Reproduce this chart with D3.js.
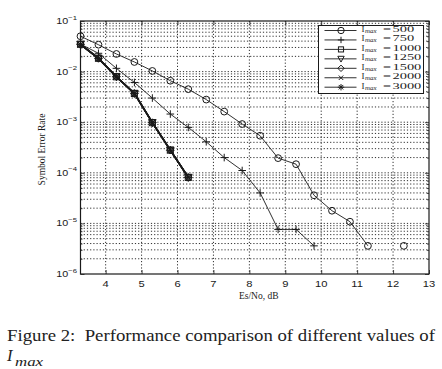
<!DOCTYPE html>
<html>
<head>
<meta charset="utf-8">
<script src="https://cdn.jsdelivr.net/npm/d3@7"></script>
<style>
  html, body { margin: 0; padding: 0; background: #fff; }
  #chart { width: 442px; height: 369px; }
</style>
</head>
<body>
<div id="chart"></div>
<script>
// Es/No points (dB)
const snr = [3.3, 3.8, 4.3, 4.8, 5.3, 5.8, 6.3, 6.8, 7.3, 7.8, 8.3, 8.8, 9.3, 9.8, 10.3, 10.8, 11.3, 11.8, 12.3];

// symbol error rate per Imax (null = no errors counted)
const ser500  = [0.050, 0.034, 0.0223, 0.0155, 0.0103, 0.0066, 0.0045, 0.0028, 0.00162, 0.00092, 0.00054, 0.000195, 0.000148, 0.000036, 0.0000178, 0.0000108, 0.0000036, null, 0.0000036];
const ser750  = [0.035, 0.023, 0.0116, 0.0061, 0.0030, 0.00145, 0.00079, 0.00041, 0.00020, 0.000111, 0.000040, 0.0000076, 0.0000076, 0.0000036];
const ser1000 = [0.0346, 0.0183, 0.0079, 0.0037, 0.00098, 0.00028, 0.000081];
const ser1250 = [0.0346, 0.0183, 0.0079, 0.0037, 0.00098, 0.00028, 0.000081];
const ser1500 = [0.0346, 0.0183, 0.0079, 0.0037, 0.00098, 0.00028, 0.000081];
const ser2000 = [0.0346, 0.0183, 0.0079, 0.0037, 0.00098, 0.00028, 0.000081];
const ser3000 = [0.0346, 0.0183, 0.0079, 0.0037, 0.00098, 0.00028, 0.000081];

const imaxLabels = ["500", "750", "1000", "1250", "1500", "2000", "3000"];
const markerKinds = ["circle", "plus", "square", "triangle", "diamond", "cross", "star"];
const xTicks = [4, 5, 6, 7, 8, 9, 10, 11, 12, 13];
const yDecades = [1e-6, 1e-5, 1e-4, 1e-3, 1e-2, 1e-1];
const yExps = ["−6", "−5", "−4", "−3", "−2", "−1"];

const seriesList = [ser500, ser750, ser1000, ser1250, ser1500, ser2000, ser3000];

const width = 442, height = 369;
const margin = { top: 21, right: 13, bottom: 95, left: 80.5 };
const w = width - margin.left - margin.right;
const h = height - margin.top - margin.bottom;

const svg = d3.select("#chart").append("svg").attr("width", width).attr("height", height);
const g = svg.append("g").attr("transform", `translate(${margin.left},${margin.top})`);

const x = d3.scaleLinear().domain([3.3, 13]).range([0, w]);
const y = d3.scaleLog().domain([1e-6, 1e-1]).range([h, 0]);

const ink = "#1a1a1a";
const serif = "Liberation Serif, Times New Roman, serif";
const sans = "Liberation Sans, Arial, sans-serif";

// grid
const minorVals = [];
for (let e = -6; e < -1; e++) for (let m = 1; m <= 9; m++) minorVals.push(m * Math.pow(10, e));
const minorOnly = minorVals.filter(v => v > 1e-6 && !yDecades.includes(v));
g.append("g").selectAll("line").data(minorVals.filter(v => v > 1e-6))
  .join("line")
  .attr("x1", 0).attr("x2", w)
  .attr("y1", d => y(d)).attr("y2", d => y(d))
  .attr("stroke", ink).attr("stroke-width", 0.9).attr("stroke-dasharray", "1.2,2");
g.append("g").selectAll("line").data(xTicks.filter(d => d < 13))
  .join("line")
  .attr("x1", d => x(d)).attr("x2", d => x(d))
  .attr("y1", 0).attr("y2", h)
  .attr("stroke", ink).attr("stroke-width", 0.9).attr("stroke-dasharray", "1.2,2");

// axes with inward ticks (MATLAB style)
const noDomain = a => a.select(".domain").remove();
g.append("g").attr("transform", `translate(0,${h})`)
  .call(d3.axisBottom(x).tickValues(xTicks).tickSize(-4).tickFormat("")).call(noDomain);
g.append("g")
  .call(d3.axisTop(x).tickValues(xTicks).tickSize(-4).tickFormat("")).call(noDomain);
g.append("g")
  .call(d3.axisLeft(y).tickValues(yDecades).tickSize(-4).tickFormat("")).call(noDomain);
g.append("g").attr("transform", `translate(${w},0)`)
  .call(d3.axisRight(y).tickValues(yDecades).tickSize(-4).tickFormat("")).call(noDomain);
g.append("g")
  .call(d3.axisLeft(y).tickValues(minorOnly).tickSize(-2).tickFormat("")).call(noDomain);
g.append("g").attr("transform", `translate(${w},0)`)
  .call(d3.axisRight(y).tickValues(minorOnly).tickSize(-2).tickFormat("")).call(noDomain);
g.selectAll(".tick line").attr("stroke", ink).attr("stroke-width", 0.8);

g.append("rect").attr("width", w).attr("height", h)
  .attr("fill", "none").attr("stroke", ink).attr("stroke-width", 1.2);

// tick labels (source figure is stretched horizontally)
g.append("g").selectAll("g").data(xTicks).join("g")
  .attr("transform", d => `translate(${x(d)},${h + 12.5}) scale(1.3,1)`)
  .append("text")
  .attr("text-anchor", "middle")
  .attr("font-family", sans).attr("font-size", 8.6)
  .attr("fill", ink)
  .text(d => d);
const yl = g.append("g").selectAll("g").data(yDecades).join("g")
  .attr("transform", d => `translate(-3.5,${y(d) + 3}) scale(1.25,1)`)
  .append("text")
  .attr("text-anchor", "end")
  .attr("font-family", sans).attr("font-size", 8.6)
  .attr("fill", ink);
yl.append("tspan").text("10");
yl.append("tspan").attr("dy", -4.5).attr("font-size", 6.2).text((d, i) => yExps[i]);

// axis titles
g.append("text").attr("x", w / 2 + 4).attr("y", h + 24.5)
  .attr("text-anchor", "middle")
  .attr("font-family", serif).attr("font-size", 9.5)
  .attr("fill", ink).text("Es/No, dB");
g.append("text")
  .attr("transform", `translate(-36,${h / 2 + 2}) rotate(-90)`)
  .attr("text-anchor", "middle")
  .attr("font-family", serif).attr("font-size", 9.5)
  .attr("fill", ink).text("Symbol Error Rate");

// markers
function marker(sel, kind, s) {
  const r = s;
  if (kind === "circle") {
    sel.append("circle").attr("r", r).attr("fill", "none");
  } else if (kind === "plus") {
    sel.append("path").attr("d", `M${-r},0H${r}M0,${-r}V${r}`);
  } else if (kind === "square") {
    sel.append("rect").attr("x", -r * 0.8).attr("y", -r * 0.8).attr("width", r * 1.6).attr("height", r * 1.6).attr("fill", "none");
  } else if (kind === "triangle") {
    sel.append("path").attr("d", `M${-r},${-r * 0.8}L${r},${-r * 0.8}L0,${r}Z`).attr("fill", "none");
  } else if (kind === "diamond") {
    sel.append("path").attr("d", `M0,${-r}L${r},0L0,${r}L${-r},0Z`).attr("fill", "none");
  } else if (kind === "cross") {
    const q = r * 0.7;
    sel.append("path").attr("d", `M${-q},${-q}L${q},${q}M${-q},${q}L${q},${-q}`);
  } else if (kind === "star") {
    const q = r * 0.7;
    sel.append("path").attr("d", `M${-r},0H${r}M0,${-r}V${r}M${-q},${-q}L${q},${q}M${-q},${q}L${q},${-q}`);
  }
  sel.selectAll("*").attr("stroke", ink).attr("stroke-width", 1);
}

const line = d3.line()
  .defined(d => d.v != null)
  .x(d => x(d.x)).y(d => y(d.v));

seriesList.forEach((vals, i) => {
  const pts = vals.map((v, j) => ({ x: snr[j], v }));
  const thick = i >= 2;
  g.append("path").datum(pts)
    .attr("fill", "none").attr("stroke", ink)
    .attr("stroke-width", thick ? 1.6 : 0.9)
    .attr("d", line);
  pts.filter(d => d.v != null).forEach(d => {
    const m = g.append("g").attr("transform", `translate(${x(d.x)},${y(d.v)})`);
    marker(m, markerKinds[i], i === 0 ? 3.4 : 3.8);
  });
});

// legend
const lg = svg.append("g").attr("transform", "translate(318.5,25.5)");
lg.append("rect").attr("width", 105).attr("height", 68)
  .attr("fill", "#fff").attr("stroke", ink).attr("stroke-width", 1);
imaxLabels.forEach((lab, i) => {
  const yy = 5 + i * 9.45;
  lg.append("line").attr("x1", 6).attr("x2", 38).attr("y1", yy).attr("y2", yy)
    .attr("stroke", ink).attr("stroke-width", 0.9);
  const m = lg.append("g").attr("transform", `translate(22.5,${yy})`);
  marker(m, markerKinds[i], 3.2);
  const base = yy + 1.3;
  lg.append("text").attr("x", 43).attr("y", base)
    .attr("font-family", serif).attr("font-size", 8)
    .attr("textLength", 3).attr("lengthAdjust", "spacingAndGlyphs")
    .attr("fill", ink).text("I");
  lg.append("text").attr("x", 46.5).attr("y", base + 1.2)
    .attr("font-family", serif).attr("font-size", 5.5).attr("font-style", "italic")
    .attr("textLength", 11.5).attr("lengthAdjust", "spacingAndGlyphs")
    .attr("fill", ink).text("max");
  lg.append("text").attr("x", 64.5).attr("y", base)
    .attr("font-family", serif).attr("font-size", 8)
    .attr("textLength", 8).attr("lengthAdjust", "spacingAndGlyphs")
    .attr("fill", ink).text("=");
  lg.append("text").attr("x", 74).attr("y", base)
    .attr("font-family", serif).attr("font-size", 8)
    .attr("textLength", 7.2 * lab.length).attr("lengthAdjust", "spacingAndGlyphs")
    .attr("fill", ink).text(lab);
});

// caption
svg.append("text").attr("x", 7).attr("y", 341)
  .attr("font-family", serif).attr("font-size", 16.5)
  .attr("fill", "#222")
  .attr("textLength", 428).attr("lengthAdjust", "spacingAndGlyphs")
  .text("Figure 2:\u00a0 Performance comparison of different values of");
svg.append("text").attr("x", 7).attr("y", 361)
  .attr("font-family", serif).attr("font-size", 16.5)
  .attr("font-style", "italic").attr("fill", "#222")
  .text("I");
svg.append("text").attr("x", 15).attr("y", 366)
  .attr("font-family", serif).attr("font-size", 12.5)
  .attr("font-style", "italic").attr("fill", "#222")
  .attr("textLength", 28).attr("lengthAdjust", "spacingAndGlyphs")
  .text("max");
</script>
</body>
</html>
